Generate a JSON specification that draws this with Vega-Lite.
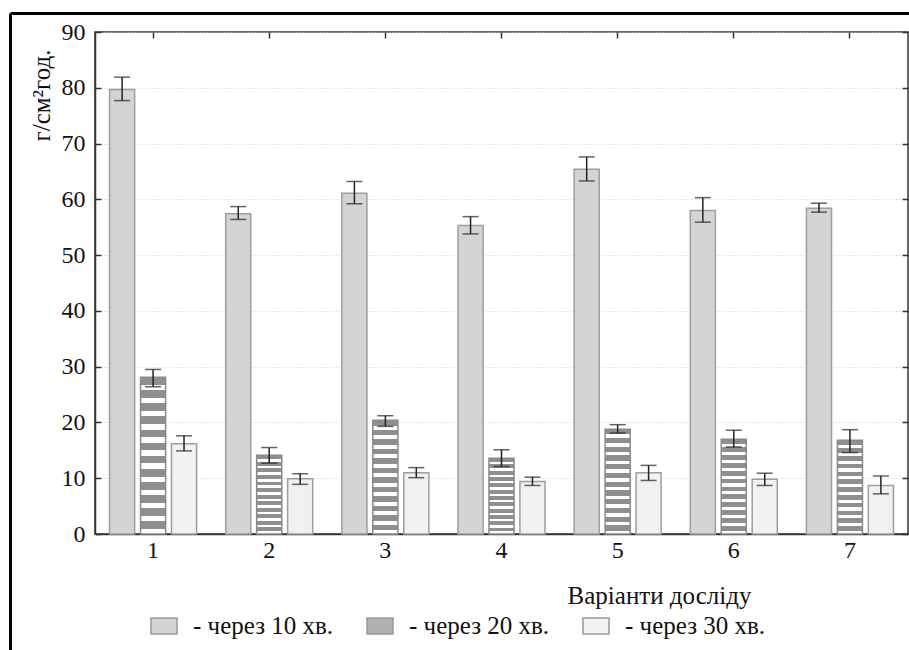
{
  "$schema": "https://vega.github.io/schema/vega-lite/v6.json",
  "width": 813,
  "height": 502,
  "autosize": {"type": "none"},
  "padding": {"left": 95, "top": 32, "right": 1, "bottom": 116},
  "background": "white",
  "config": {
    "font": "Liberation Serif",
    "view": {"stroke": "#333", "strokeWidth": 1.5},
    "axis": {
      "labelFont": "Liberation Serif",
      "titleFont": "Liberation Serif",
      "labelFontSize": 24,
      "titleFontSize": 25,
      "labelColor": "#111",
      "titleColor": "#111",
      "titleFontWeight": "normal",
      "domainColor": "#333",
      "domainWidth": 1.5,
      "tickColor": "#333",
      "tickWidth": 1.5
    }
  },
  "data": {
    "values": [
      {"v": "1", "s": "через 10 хв.", "m": 79.7, "lo": 77.7, "hi": 81.9},
      {"v": "2", "s": "через 10 хв.", "m": 57.4, "lo": 56.4, "hi": 58.7},
      {"v": "3", "s": "через 10 хв.", "m": 61.1, "lo": 59.2, "hi": 63.2},
      {"v": "4", "s": "через 10 хв.", "m": 55.3, "lo": 53.8, "hi": 56.9},
      {"v": "5", "s": "через 10 хв.", "m": 65.4, "lo": 63.3, "hi": 67.6},
      {"v": "6", "s": "через 10 хв.", "m": 58.0, "lo": 55.9, "hi": 60.3},
      {"v": "7", "s": "через 10 хв.", "m": 58.4, "lo": 57.7, "hi": 59.3},
      {"v": "1", "s": "через 20 хв.", "m": 28.1, "lo": 26.4, "hi": 29.5},
      {"v": "2", "s": "через 20 хв.", "m": 14.1, "lo": 12.7, "hi": 15.5},
      {"v": "3", "s": "через 20 хв.", "m": 20.4, "lo": 19.3, "hi": 21.2},
      {"v": "4", "s": "через 20 хв.", "m": 13.6, "lo": 12.1, "hi": 15.1},
      {"v": "5", "s": "через 20 хв.", "m": 18.8, "lo": 18.1, "hi": 19.6},
      {"v": "6", "s": "через 20 хв.", "m": 17.0, "lo": 15.6, "hi": 18.6},
      {"v": "7", "s": "через 20 хв.", "m": 16.8, "lo": 14.6, "hi": 18.7},
      {"v": "1", "s": "через 30 хв.", "m": 16.2, "lo": 14.9, "hi": 17.6},
      {"v": "2", "s": "через 30 хв.", "m": 9.9, "lo": 8.9, "hi": 10.8},
      {"v": "3", "s": "через 30 хв.", "m": 11.0, "lo": 10.1, "hi": 11.9},
      {"v": "4", "s": "через 30 хв.", "m": 9.4, "lo": 8.7, "hi": 10.2},
      {"v": "5", "s": "через 30 хв.", "m": 11.0, "lo": 9.6, "hi": 12.3},
      {"v": "6", "s": "через 30 хв.", "m": 9.8, "lo": 8.7, "hi": 10.9},
      {"v": "7", "s": "через 30 хв.", "m": 8.7, "lo": 7.2, "hi": 10.4}
    ]
  },
  "layer": [
    {
      "mark": {"type": "bar", "strokeWidth": 1.5},
      "encoding": {
        "x": {
          "field": "v", "type": "ordinal",
          "scale": {"paddingInner": 0.251, "paddingOuter": 0.1255},
          "axis": {
            "orient": "bottom", "labelAngle": 0, "tickSize": -6, "labelPadding": 10,
            "title": "Варіанти досліду", "titleX": 564, "titleY": 69,
            "titleAlign": "center", "titleBaseline": "alphabetic", "grid": false
          }
        },
        "xOffset": {
          "field": "s", "type": "nominal",
          "sort": ["через 10 хв.", "через 20 хв.", "через 30 хв."],
          "scale": {"paddingInner": 0.19, "paddingOuter": 0}
        },
        "y": {
          "field": "m", "type": "quantitative",
          "scale": {"domain": [0, 90], "nice": false},
          "axis": {
            "orient": "left", "values": [0, 10, 20, 30, 40, 50, 60, 70, 80, 90],
            "tickSize": -6, "labelPadding": 16, "grid": true,
            "gridColor": "#cfcfcf", "gridDash": [1, 2], "gridWidth": 1,
            "title": "г/см²год.", "titleAngle": 270, "titleX": -46, "titleY": 17,
            "titleAlign": "right", "titleBaseline": "alphabetic"
          }
        },
        "stroke": {
          "condition": {"test": "datum.s === 'через 20 хв.'", "value": "#8a8a8a"},
          "value": "#9e9e9e"
        },
        "fill": {
          "condition": {
            "test": "datum.s === 'через 20 хв.'",
            "value": {"gradient": "linear", "x1": 0, "y1": 0, "x2": 0, "y2": 1, "stops": [
              {"offset": 0, "color": "#8f8f8f"}, {"offset": 0.05, "color": "#8f8f8f"}, {"offset": 0.05, "color": "#ffffff"}, {"offset": 0.0833, "color": "#ffffff"},
              {"offset": 0.0833, "color": "#8f8f8f"}, {"offset": 0.1333, "color": "#8f8f8f"}, {"offset": 0.1333, "color": "#ffffff"}, {"offset": 0.1667, "color": "#ffffff"},
              {"offset": 0.1667, "color": "#8f8f8f"}, {"offset": 0.2167, "color": "#8f8f8f"}, {"offset": 0.2167, "color": "#ffffff"}, {"offset": 0.25, "color": "#ffffff"},
              {"offset": 0.25, "color": "#8f8f8f"}, {"offset": 0.3, "color": "#8f8f8f"}, {"offset": 0.3, "color": "#ffffff"}, {"offset": 0.3333, "color": "#ffffff"},
              {"offset": 0.3333, "color": "#8f8f8f"}, {"offset": 0.3833, "color": "#8f8f8f"}, {"offset": 0.3833, "color": "#ffffff"}, {"offset": 0.4167, "color": "#ffffff"},
              {"offset": 0.4167, "color": "#8f8f8f"}, {"offset": 0.4667, "color": "#8f8f8f"}, {"offset": 0.4667, "color": "#ffffff"}, {"offset": 0.5, "color": "#ffffff"},
              {"offset": 0.5, "color": "#8f8f8f"}, {"offset": 0.55, "color": "#8f8f8f"}, {"offset": 0.55, "color": "#ffffff"}, {"offset": 0.5833, "color": "#ffffff"},
              {"offset": 0.5833, "color": "#8f8f8f"}, {"offset": 0.6333, "color": "#8f8f8f"}, {"offset": 0.6333, "color": "#ffffff"}, {"offset": 0.6667, "color": "#ffffff"},
              {"offset": 0.6667, "color": "#8f8f8f"}, {"offset": 0.7167, "color": "#8f8f8f"}, {"offset": 0.7167, "color": "#ffffff"}, {"offset": 0.75, "color": "#ffffff"},
              {"offset": 0.75, "color": "#8f8f8f"}, {"offset": 0.8, "color": "#8f8f8f"}, {"offset": 0.8, "color": "#ffffff"}, {"offset": 0.8333, "color": "#ffffff"},
              {"offset": 0.8333, "color": "#8f8f8f"}, {"offset": 0.8833, "color": "#8f8f8f"}, {"offset": 0.8833, "color": "#ffffff"}, {"offset": 0.9167, "color": "#ffffff"},
              {"offset": 0.9167, "color": "#8f8f8f"}, {"offset": 0.9667, "color": "#8f8f8f"}, {"offset": 0.9667, "color": "#ffffff"}, {"offset": 1, "color": "#ffffff"}
            ]}
          },
          "field": "s", "type": "nominal",
          "scale": {
            "domain": ["через 10 хв.", "через 20 хв.", "через 30 хв."],
            "range": ["#d4d4d4", "#b0b0b0", "#f1f1f1"]
          },
          "legend": {
            "orient": "none", "direction": "horizontal", "legendX": 55, "legendY": 580,
            "title": null, "labelFont": "Liberation Serif", "labelFontSize": 25, "labelColor": "#111",
            "labelExpr": "'- ' + datum.label",
            "symbolType": "M-1,-0.615H1V0.615H-1Z", "symbolSize": 676,
            "symbolStrokeColor": "#999", "symbolStrokeWidth": 1.5,
            "labelOffset": 15, "columnPadding": 30,
            "encode": {
              "symbols": {
                "update": {
                  "fill": {"signal": "datum.value === 'через 20 хв.' ? {gradient: 'linear', x1: 0, y1: 0, x2: 0, y2: 1, stops: [{offset: 0, color: '#8f8f8f'}, {offset: 0.25, color: '#8f8f8f'}, {offset: 0.25, color: '#ffffff'}, {offset: 0.375, color: '#ffffff'}, {offset: 0.375, color: '#8f8f8f'}, {offset: 0.625, color: '#8f8f8f'}, {offset: 0.625, color: '#ffffff'}, {offset: 0.75, color: '#ffffff'}, {offset: 0.75, color: '#8f8f8f'}, {offset: 1, color: '#8f8f8f'}]} : scale('fill', datum.value)"},
                  "stroke": {"value": "#999"},
                  "strokeWidth": {"value": 1.5},
                  "opacity": {"value": 1}
                }
              }
            }
          }
        }
      }
    },
    {
      "mark": {"type": "rule", "color": "#222", "strokeWidth": 1.5},
      "encoding": {
        "x": {"field": "v", "type": "ordinal", "axis": {"orient": "top", "labels": false, "tickSize": -6, "domain": false, "title": null, "grid": false}},
        "xOffset": {"field": "s", "type": "nominal", "sort": ["через 10 хв.", "через 20 хв.", "через 30 хв."]},
        "y": {"field": "lo", "type": "quantitative", "axis": {"orient": "right", "labels": false, "tickSize": -6, "domain": false, "title": null, "grid": false, "values": [0, 10, 20, 30, 40, 50, 60, 70, 80, 90]}},
        "y2": {"field": "hi"}
      }
    },
    {
      "mark": {"type": "tick", "color": "#222", "thickness": 1.5, "size": 16},
      "encoding": {
        "x": {"field": "v", "type": "ordinal", "axis": {"orient": "top", "offset": 19, "values": ["1"], "tickOffset": -143, "tickSize": -660, "tickWidth": 3, "tickColor": "#000", "labels": false, "domain": false, "grid": false, "title": null}},
        "xOffset": {"field": "s", "type": "nominal", "sort": ["через 10 хв.", "через 20 хв.", "через 30 хв."]},
        "y": {"field": "lo", "type": "quantitative", "axis": null}
      }
    },
    {
      "mark": {"type": "tick", "color": "#222", "thickness": 1.5, "size": 16},
      "encoding": {
        "x": {"field": "v", "type": "ordinal", "axis": null},
        "xOffset": {"field": "s", "type": "nominal", "sort": ["через 10 хв.", "через 20 хв.", "через 30 хв."]},
        "y": {"field": "hi", "type": "quantitative", "axis": {"orient": "left", "offset": 85, "values": [90], "tickOffset": -19, "tickSize": -920, "tickWidth": 3, "tickColor": "#000", "labels": false, "domain": false, "grid": false, "title": null}}
      }
    }
  ],
  "resolve": {"axis": {"x": "independent", "y": "independent"}}
}
